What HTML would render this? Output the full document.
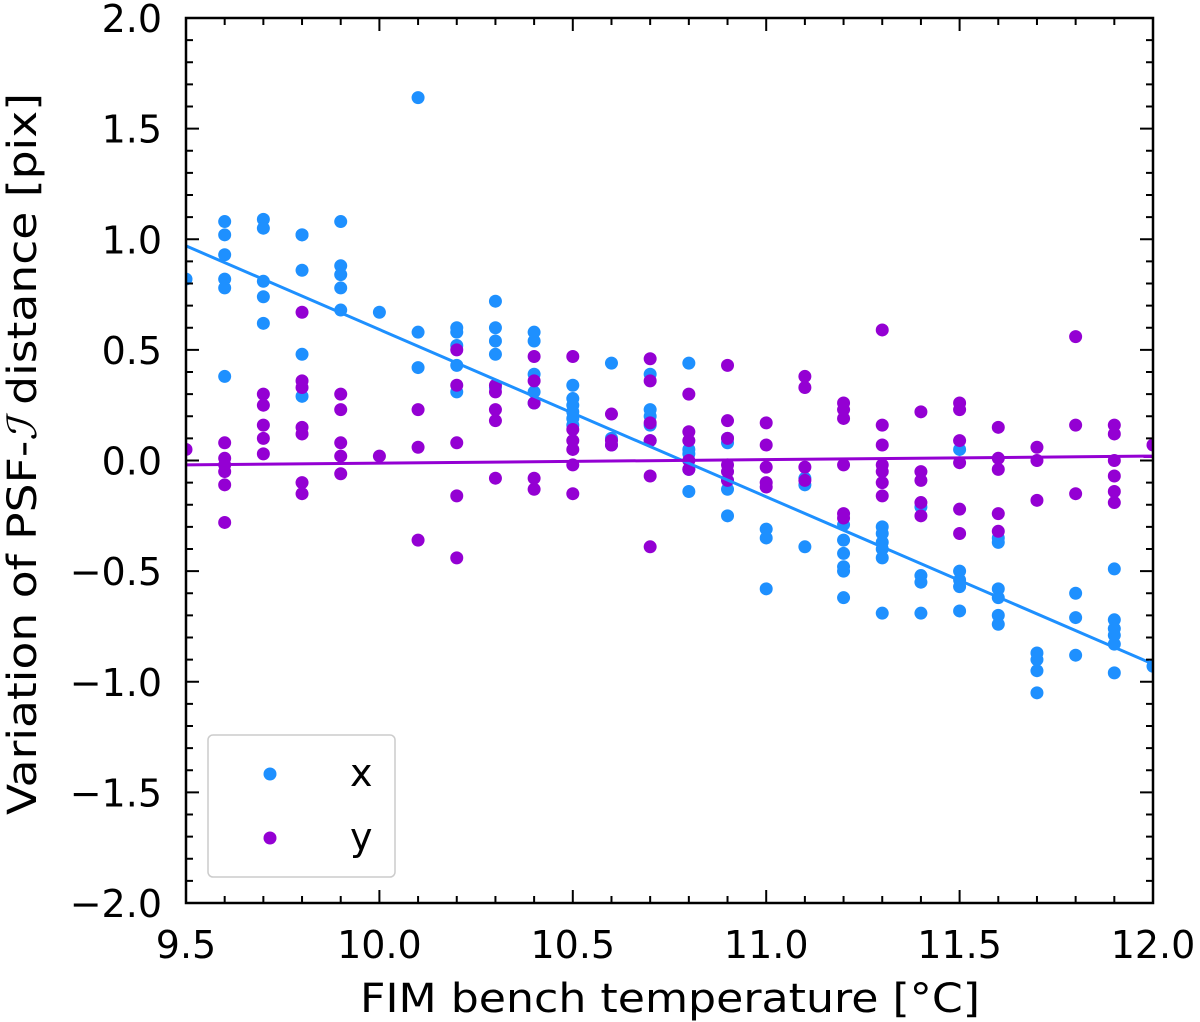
<!DOCTYPE html>
<html><head><meta charset="utf-8"><style>
html,body{margin:0;padding:0;background:#fff}
svg{display:block;font-family:"DejaVu Sans","Liberation Sans",sans-serif}
</style></head><body>
<svg id="chart" width="1200" height="1022" viewBox="0 0 1200 1022" xmlns="http://www.w3.org/2000/svg">
<g id="marks"></g>
<g id="axes"></g>
<text x="360" y="1012" font-size="40" textLength="620" lengthAdjust="spacingAndGlyphs">FIM bench temperature [°C]</text>
<text transform="translate(36,815) rotate(-90)" font-size="40" textLength="722" lengthAdjust="spacingAndGlyphs">Variation of PSF-<tspan font-family="DejaVu Serif,serif" font-style="italic">ℐ</tspan> distance [pix]</text>
<g>
<rect x="208" y="735" width="187" height="142" rx="5" fill="#fff" stroke="#ccc" stroke-width="1.5"/>
<circle cx="270" cy="774" r="6.5" fill="#1e90ff"/>
<text x="350" y="786" font-size="38">x</text>
<circle cx="270" cy="838" r="6.5" fill="#9400d3"/>
<text x="350" y="850" font-size="38">y</text>
</g>
</svg>
<script>
const xTemps=[9.5,9.6,9.7,9.8,9.9,10.0,10.1,10.2,10.3,10.4,10.5,10.6,10.7,10.8,10.9,11.0,11.1,11.2,11.3,11.4,11.5,11.6,11.7,11.8,11.9,12.0];
const xSeries=[[0.82],[1.08,1.02,0.93,0.82,0.78,0.38],[1.09,1.05,0.81,0.74,0.62],[1.02,1.02,0.86,0.48,0.29],[1.08,0.88,0.84,0.78,0.68],[0.67],[1.64,0.58,0.42],[0.6,0.58,0.52,0.43,0.31],[0.72,0.6,0.54,0.48,0.33],[0.58,0.54,0.39,0.31,0.26],[0.34,0.28,0.25,0.22,0.19,0.16],[0.44,0.1,0.07],[0.39,0.23,0.2,0.16,0.09],[0.44,0.05,0.03,-0.04,-0.14],[0.1,0.08,-0.09,-0.13,-0.25],[-0.31,-0.35,-0.58],[-0.08,-0.11,-0.39],[-0.29,-0.36,-0.42,-0.48,-0.5,-0.62],[-0.3,-0.33,-0.37,-0.4,-0.44,-0.69],[-0.21,-0.52,-0.55,-0.69],[0.05,-0.5,-0.54,-0.57,-0.68],[-0.35,-0.37,-0.58,-0.62,-0.7,-0.74],[-0.87,-0.9,-0.95,-1.05],[-0.6,-0.71,-0.88],[-0.49,-0.72,-0.76,-0.79,-0.83,-0.96],[-0.93]];
const ySeries=[[0.05],[0.08,0.01,-0.02,-0.05,-0.11,-0.28],[0.3,0.25,0.16,0.1,0.03],[0.67,0.36,0.33,0.15,0.12,-0.1,-0.15],[0.3,0.23,0.08,0.02,-0.06],[0.02],[0.23,0.06,-0.36],[0.5,0.34,0.08,-0.16,-0.44],[0.34,0.31,0.23,0.18,-0.08],[0.47,0.36,0.26,-0.08,-0.13],[0.47,0.14,0.09,0.05,-0.02,-0.15],[0.21,0.09,0.07],[0.46,0.36,0.17,0.09,-0.07,-0.39],[0.3,0.13,0.09,0.0,-0.04],[0.43,0.18,0.1,-0.02,-0.05,-0.09],[0.17,0.07,-0.03,-0.1,-0.12],[0.38,0.33,-0.03,-0.09],[0.26,0.23,0.19,-0.02,-0.24,-0.26],[0.59,0.16,0.07,-0.02,-0.05,-0.1,-0.16],[0.22,-0.05,-0.09,-0.19,-0.25],[0.26,0.23,0.09,-0.01,-0.22,-0.33],[0.15,0.01,-0.04,-0.24,-0.32],[0.06,0.0,-0.18],[0.56,0.16,-0.15],[0.16,0.12,0.0,-0.07,-0.14,-0.19],[0.07]];
const fitXEnds=[0.97,-0.92];
const fitYEnds=[-0.02,0.02];
const xTicks=[9.5,10.0,10.5,11.0,11.5,12.0];
const xTickLabels=["9.5","10.0","10.5","11.0","11.5","12.0"];
const yTicks=[2.0,1.5,1.0,0.5,0.0,-0.5,-1.0,-1.5,-2.0];
const yTickLabels=["2.0","1.5","1.0","0.5","0.0","\u22120.5","\u22121.0","\u22121.5","\u22122.0"];

const L=186,R=1153,T=18,B=903,X0=9.5,X1=12.0,Y0=-2,Y1=2;
const sx=v=>L+(v-X0)/(X1-X0)*(R-L);
const sy=v=>B-(v-Y0)/(Y1-Y0)*(B-T);
const NS="http://www.w3.org/2000/svg";
const mk=(t,a,p)=>{const e=document.createElementNS(NS,t);for(const k in a)e.setAttribute(k,a[k]);p.appendChild(e);return e;};
const marks=document.getElementById('marks'),axes=document.getElementById('axes');
const cp=mk('clipPath',{id:'clip'},marks);mk('rect',{x:L,y:T,width:R-L,height:B-T},cp);
const g=mk('g',{'clip-path':'url(#clip)'},marks);
function drawPts(series,color,name){
  series.forEach((vals,i)=>vals.forEach(v=>{
    const c=mk('circle',{cx:sx(xTemps[i]),cy:sy(v),r:6.5,fill:color},g);
    
    
  }));
}
drawPts(xSeries,'#1e90ff','point-x');
drawPts(ySeries,'#9400d3','point-y');
const l1=mk('line',{x1:sx(X0),y1:sy(fitXEnds[0]),x2:sx(X1),y2:sy(fitXEnds[1]),stroke:'#1e90ff','stroke-width':3},g);


const l2=mk('line',{x1:sx(X0),y1:sy(fitYEnds[0]),x2:sx(X1),y2:sy(fitYEnds[1]),stroke:'#9400d3','stroke-width':3},g);


for(let k=0;k<=25;k++){const v=X0+k*0.1,x=sx(v),len=(k%5==0)?13:7;
  mk('line',{x1:x,y1:B,x2:x,y2:B-len,stroke:'#000','stroke-width':2},axes);
  mk('line',{x1:x,y1:T,x2:x,y2:T+len,stroke:'#000','stroke-width':2},axes);}
for(let k=0;k<=40;k++){const v=Y0+k*0.1,y=sy(v),len=(k%5==0)?13:7;
  mk('line',{x1:L,y1:y,x2:L+len,y2:y,stroke:'#000','stroke-width':2},axes);
  mk('line',{x1:R,y1:y,x2:R-len,y2:y,stroke:'#000','stroke-width':2},axes);}
xTicks.forEach((v,i)=>{const t=mk('text',{x:sx(v),y:B+55,'font-size':38,'text-anchor':'middle'},axes);t.textContent=xTickLabels[i];
  
  });
yTicks.forEach((v,i)=>{const t=mk('text',{x:L-24,y:sy(v)+14,'font-size':38,'text-anchor':'end'},axes);t.textContent=yTickLabels[i];
  
  });
const fr=mk('rect',{x:L,y:T,width:R-L,height:B-T,fill:'none',stroke:'#000','stroke-width':2.5},axes);


</script>
</body></html>
